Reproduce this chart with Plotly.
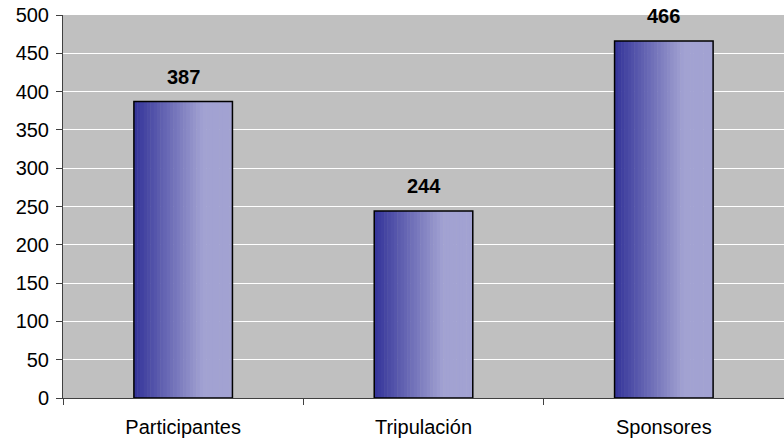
import plotly.graph_objects as go

categories = ["Participantes", "Tripulación", "Sponsores"]
values = [387, 244, 466]
y_ticks = [0, 50, 100, 150, 200, 250, 300, 350, 400, 450, 500]

BAR_W = 0.41
N = 30
dark = (0x33, 0x33, 0x99)
light = (0xA2, 0xA2, 0xD2)


def mix(t):
    t = min(1.0, t)
    return "rgb(%d,%d,%d)" % tuple(round(d + (l - d) * t) for d, l in zip(dark, light))


fig = go.Figure()
for i in range(N):
    s = (i + 0.5) / N
    fig.add_trace(go.Bar(
        x=categories, y=values,
        width=[BAR_W / N * 1.15] * len(values),
        offset=[-BAR_W / 2 + i * BAR_W / N] * len(values),
        marker=dict(color=mix(s / 0.7), line=dict(width=0)),
        showlegend=False, hoverinfo="skip",
    ))
# outline
fig.add_trace(go.Bar(
    x=categories, y=values, width=[BAR_W] * len(values),
    marker=dict(color="rgba(0,0,0,0)", line=dict(color="black", width=1.5)),
    showlegend=False,
))

for c, v in zip(categories, values):
    fig.add_annotation(x=c, y=v, text="<b>%d</b>" % v, showarrow=False,
                       yanchor="bottom", yshift=12,
                       font=dict(family="Liberation Sans, Arial", size=20, color="black"))

fig.update_layout(
    width=784, height=440,
    margin=dict(l=63, r=0, t=15, b=42),
    barmode="overlay",
    paper_bgcolor="white", plot_bgcolor="#C0C0C0",
    font=dict(family="Liberation Sans, Arial", size=20, color="black"),
    xaxis=dict(type="category", tickson="boundaries", ticks="outside", ticklen=6,
               tickcolor="#404040", showline=True, linecolor="#404040", linewidth=1,
               showgrid=False, range=[-0.5, 2.5], ticklabelstandoff=11),
    yaxis=dict(range=[0, 500], tickvals=y_ticks, ticks="outside", ticklen=6,
               tickcolor="#404040", showline=True, linecolor="#404040", linewidth=1,
               gridcolor="white", gridwidth=1, zeroline=False, ticklabelstandoff=3),
)

fig.write_html("out.html", config={"displayModeBar": False},
               post_script="document.body.style.margin='0px';")
